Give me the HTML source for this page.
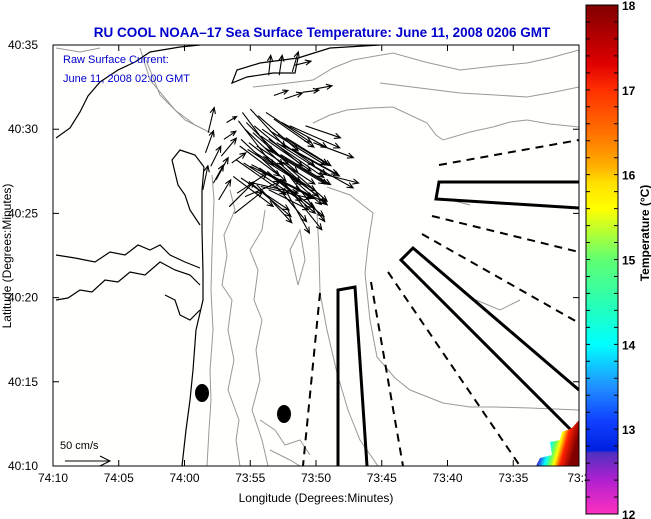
<!DOCTYPE html>
<html><head><meta charset="utf-8"><style>
html,body{margin:0;padding:0;background:#fff;}
svg{display:block;font-family:"Liberation Sans",sans-serif;}
</style></head><body>
<svg id="chart" width="651" height="519" viewBox="0 0 651 519" xmlns="http://www.w3.org/2000/svg">
<defs>
<linearGradient id="cbar" x1="0" y1="0" x2="0" y2="1"></linearGradient>
<linearGradient id="sstpatch" x1="0" y1="0" x2="1" y2="0.3">
<stop offset="0" stop-color="#ff30c0"/><stop offset="0.3" stop-color="#3030e0"/><stop offset="0.45" stop-color="#00ffff"/><stop offset="0.55" stop-color="#60ff60"/><stop offset="0.65" stop-color="#ffff00"/><stop offset="0.78" stop-color="#ff2000"/><stop offset="1" stop-color="#800000"/>
</linearGradient>
<clipPath id="plotclip"><rect x="53" y="45" width="526" height="421"/></clipPath>
</defs>
<rect x="53" y="45" width="526" height="421" fill="#fffffd"/>
<text x="322" y="37" text-anchor="middle" font-size="13.5" font-weight="bold" fill="#0000cc">RU COOL  NOAA–17  Sea Surface Temperature:  June 11, 2008 0206 GMT</text>
<g id="mapg" clip-path="url(#plotclip)">
 <g fill="none" stroke="#999" stroke-width="1">
  <path d="M207,466 L209,430 L211,400 L210,370 L213,330 L211,290 L212,250 L214,200 L212,175"/>
  <path d="M240,466 L236,440 L239,420 L228,390 L234,360 L228,330 L232,300 L222,285 L227,255 L224,235 L235,210 L230,190"/>
  <path d="M268,466 L262,440 L252,410 L260,380 L256,350 L262,320 L254,300 L258,270 L250,250 L262,230 L265,210"/>
  <path d="M327,187 L350,195 L373,213 L368,245 L365,273 L370,320 L377,357 L395,378 L410,390 L443,403 L470,407 L493,407 L530,408 L579,410"/>
  <path d="M317,213 L319,250 L320,293 L327,330 L337,373 L348,410 L360,440 L380,469"/>
  <path d="M253,87 L280,84 L313,80 L333,68 L353,60 L393,53 L425,62 L460,70 L495,66 L527,63 L550,58 L579,50"/>
  <path d="M313,123 L330,115 L347,110 L370,108 L393,107 L410,115 L427,123 L436,135 L443,140 L470,132 L493,127 L510,122 L527,120 L550,124 L579,127"/>
  <path d="M380,83 L420,88 L460,93 L495,95 L527,97 L555,92 L579,87"/>
  <path d="M56,48 L80,52 L100,48 M140,48 L150,80 L175,110 L195,125 L215,135"/>
  <path d="M146,60 L160,95 L185,120 L205,130"/>
  <path d="M290,250 L298,285 L305,260 L300,230 Z"/>
  <path d="M260,420 L275,430 L285,445 L300,440 L310,455 M270,450 L290,460 L300,466"/>
  <path d="M476,300 L500,310 L520,300 M450,200 L470,205"/>
 </g>
 <g fill="none" stroke="#000" stroke-width="1.2">
  <path d="M182,466 L186,430 L190,400 L193,370 L196,330 L203,300 L203,273 L202,230 L202,190 L204,167"/>
  <path d="M232,83 L237,70 L260,63 L298,58 L295,73 L273,73 L247,77 L232,83 Z"/>
  <path d="M298,58 L330,48 L380,45"/>
  <path d="M56,138 L70,128 L80,112 L88,96 L100,82 L118,70 L135,62 L150,52 L180,47 L200,45"/>
  <path d="M200,225 L190,210 L185,195 L178,185 L172,160 L180,150 L195,155 L204,167"/>
  <path d="M56,255 L75,258 L95,262 L110,252 L125,255 L138,245 L150,250 L160,245 L170,255 L185,262 L200,268"/>
  <path d="M56,300 L68,298 L80,290 L92,292 L105,280 L118,282 L130,272 L145,275 L160,262 L175,270 L190,275 L200,285"/>
  <path d="M165,295 L175,300 L180,315 L190,320 L200,310"/>
 </g>
 <g fill="none" stroke="#000" stroke-width="3">
  <path d="M338,466 L338,290 L355,287 L367,466"/>
  <path d="M579,182 L439,182 L436,199 L579,208"/>
  <path d="M579,390 L413,248 L401,260 L579,438"/>
 </g>
 <g fill="none" stroke="#000" stroke-width="2" stroke-dasharray="8,6">
  <path d="M439,165 L579,140"/>
  <path d="M432,216 L579,252"/>
  <path d="M422,234 L579,323"/>
  <path d="M388,272 L520,466"/>
  <path d="M371,282 L403,466"/>
  <path d="M320,293 L303,466"/>
 </g>
 <ellipse cx="202" cy="393" rx="7" ry="9" fill="#000"/>
 <ellipse cx="284" cy="414" rx="7" ry="9" fill="#000"/>
 <path d="M536,466 L540,458 L552,455 L550,442 L560,440 L562,432 L572,428 L579,420 L579,466 Z" fill="url(#sstpatch)"/>
 <g id="arrows" stroke="#000" stroke-width="1.1" fill="none"></g>
</g>
<rect x="53" y="45" width="526" height="421" fill="none" stroke="#000" stroke-width="1"/>
<g id="axes"></g>
<text x="63" y="63" font-size="11" fill="#0000cc">Raw Surface Current:</text>
<text x="63" y="82" font-size="11" fill="#0000cc">June 11, 2008 02:00 GMT</text>
<text x="60" y="449" font-size="11" fill="#000">50 cm/s</text>
<g stroke="#000" fill="none" stroke-width="1"><path d="M65,461 L110,461 M100,456 L110,461 L100,466"/></g>
<text x="316" y="502" text-anchor="middle" font-size="12">Longitude (Degrees:Minutes)</text>
<text transform="translate(11,256) rotate(-90)" text-anchor="middle" font-size="12">Latitude (Degrees:Minutes)</text>
<rect x="586" y="5" width="32" height="509" fill="url(#cbar)" stroke="#000" stroke-width="1"/>
<g id="cbticks"></g>
<text transform="translate(649,233) rotate(-90)" text-anchor="middle" font-size="12" font-weight="bold">Temperature (°C)</text>
</svg>
<script>
const lonTicks = ["74:10","74:05","74:00","73:55","73:50","73:45","73:40","73:35","73:3"];
const lonTickVals = [70,65,60,55,50,45,40,35,30];
const latTicks = ["40:35","40:30","40:25","40:20","40:15","40:10"];
const latTickVals = [35,30,25,20,15,10];
const cbLabels = ["18","17","16","15","14","13","12"];
const cbVals = [18,17,16,15,14,13,12];
const cbStopVals = [18,17.3,17,16.5,16.1,15.9,15.6,15,14.4,14,13.5,13.1,12.75,12.72,12.4,12];
const cbStopColors = ["#800000","#e00000","#ff3000","#ff7000","#ffb000","#ffe000","#ffff00","#60ff70","#20ffc0","#00ffff","#2090ff","#1040ff","#0020e0","#5030c0","#b020d0","#ff30c0"];
const arrowLon = [55.6,55.0,54.4,53.8,53.2,52.6,52.0,55.4,54.8,54.2,53.6,53.0,52.4,51.8,55.8,55.2,54.6,54.0,53.4,52.8,52.2,55.0,54.4,53.8,53.2,52.6,52.0,54.8,54.2,53.6,53.0,52.4,56.6,56.0,55.4,56.2,58.4,58.0,57.6,58.6,57.2,57.0,56.4,58.2,56.8,53.6,52.8,51.8,53.2,52.4,51.6,51.0,50.0,50.8,50.2,50.6,49.8,
 55.9,55.3,54.7,54.1,53.5,52.9,52.3,55.7,55.1,54.5,53.9,53.3,52.7,56.1,55.5,54.9,54.3,53.7,56.3,55.7,55.1,54.5,57.4,57.8];
const arrowLat = [31.0,31.2,30.8,31.0,30.6,30.4,30.2,30.0,29.8,29.6,29.4,29.2,29.0,28.8,29.0,28.8,28.6,28.4,28.2,28.0,27.8,27.8,27.6,27.4,27.2,27.0,27.2,26.8,26.6,26.4,26.6,26.5,25.4,26.2,26.0,25.0,28.6,27.8,27.0,26.4,28.4,29.4,28.0,29.8,30.4,33.2,33.2,33.4,32.0,31.8,33.8,32.2,32.4,30.2,29.2,28.0,27.4,
 30.5,30.4,30.2,30.0,29.9,29.7,29.5,29.4,29.2,29.0,28.9,28.7,28.5,28.2,28.0,27.9,27.7,27.5,27.2,27.1,26.9,26.7,25.8,26.8];
const arrowU = [30,35,40,45,40,45,50,38,45,50,55,50,55,45,40,55,60,55,50,48,40,50,55,60,50,40,35,45,50,40,30,25,25,30,35,28,8,10,12,5,15,12,14,6,10,2,3,6,14,18,16,16,16,35,40,45,40,
 35,42,48,52,55,50,45,45,52,58,60,55,50,50,58,62,55,48,40,48,42,35,12,10];
const arrowV = [-40,-38,-35,-30,-28,-25,-22,-36,-40,-35,-38,-32,-30,-25,-30,-35,-38,-40,-45,-42,-35,-25,-28,-30,-40,-50,-45,-10,-12,-20,-35,-45,25,20,15,22,22,20,22,24,18,8,10,25,6,20,20,20,5,6,4,2,3,-12,-15,-25,-10,
 -45,-42,-40,-36,-34,-30,-28,-42,-40,-38,-36,-33,-30,-35,-38,-34,-40,-42,-30,-32,-35,-38,20,18];

const NS='http://www.w3.org/2000/svg';
const X0=53,X1=579,Y0=45,Y1=466;
function xScale(lon){return X0+(70-lon)*(X1-X0)/40;}
function yScale(lat){return Y0+(35-lat)*(Y1-Y0)/25;}
function cbY(t){return 5+(18-t)*509/6;}
function mk(tag,attrs,parent){const e=document.createElementNS(NS,tag);for(const k in attrs)e.setAttribute(k,attrs[k]);parent.appendChild(e);return e;}

const grad=document.getElementById('cbar');
cbStopVals.forEach((v,i)=>{mk('stop',{offset:((18-v)/6).toFixed(4),'stop-color':cbStopColors[i]},grad);});

const axes=document.getElementById('axes');
lonTicks.forEach((lab,i)=>{
  const x=xScale(lonTickVals[i]);
  const t=mk('path',{d:`M${x},${Y1} L${x},${Y1-6} M${x},${Y0} L${x},${Y0+6}`,stroke:'#000','stroke-width':1},axes);
  
  
  const tx=mk('text',{x:x,y:482,'text-anchor':'middle','font-size':12},axes);
  tx.textContent=lab;
  
  
});
latTicks.forEach((lab,i)=>{
  const y=yScale(latTickVals[i]);
  const t=mk('path',{d:`M${X0},${y} L${X0+6},${y} M${X1},${y} L${X1-6},${y}`,stroke:'#000','stroke-width':1},axes);
  
  
  const tx=mk('text',{x:38,y:y+4,'text-anchor':'end','font-size':12},axes);
  tx.textContent=lab;
  
  
});

const cbt=document.getElementById('cbticks');
for(let k=0;k<=30;k++){
  const y=5+k*509/30;
  const t=mk('path',{d:`M586,${y} L590,${y} M618,${y} L614,${y}`,stroke:'#000','stroke-width':1},cbt);
  
  
}
cbLabels.forEach((lab,i)=>{
  const y=cbY(cbVals[i]);
  const tx=mk('text',{x:622,y:y+5,'font-size':12,'font-weight':'bold'},cbt);
  tx.textContent=lab;
  
  
});

const ag=document.getElementById('arrows');
const S=1.0;
arrowLon.forEach((lon,i)=>{
  const x=xScale(lon),y=yScale(arrowLat[i]);
  const dx=arrowU[i]*S,dy=-arrowV[i]*S;
  const L=Math.hypot(dx,dy)||1;
  const ux=dx/L,uy=dy/L,h=Math.min(6,L*0.35);
  const ex=x+dx,ey=y+dy;
  const p=mk('path',{d:`M${x.toFixed(1)},${y.toFixed(1)} L${ex.toFixed(1)},${ey.toFixed(1)} M${(ex-h*ux+h*0.45*uy).toFixed(1)},${(ey-h*uy-h*0.45*ux).toFixed(1)} L${ex.toFixed(1)},${ey.toFixed(1)} L${(ex-h*ux-h*0.45*uy).toFixed(1)},${(ey-h*uy+h*0.45*ux).toFixed(1)}`},ag);
  
  
});
</script>
</body></html>
